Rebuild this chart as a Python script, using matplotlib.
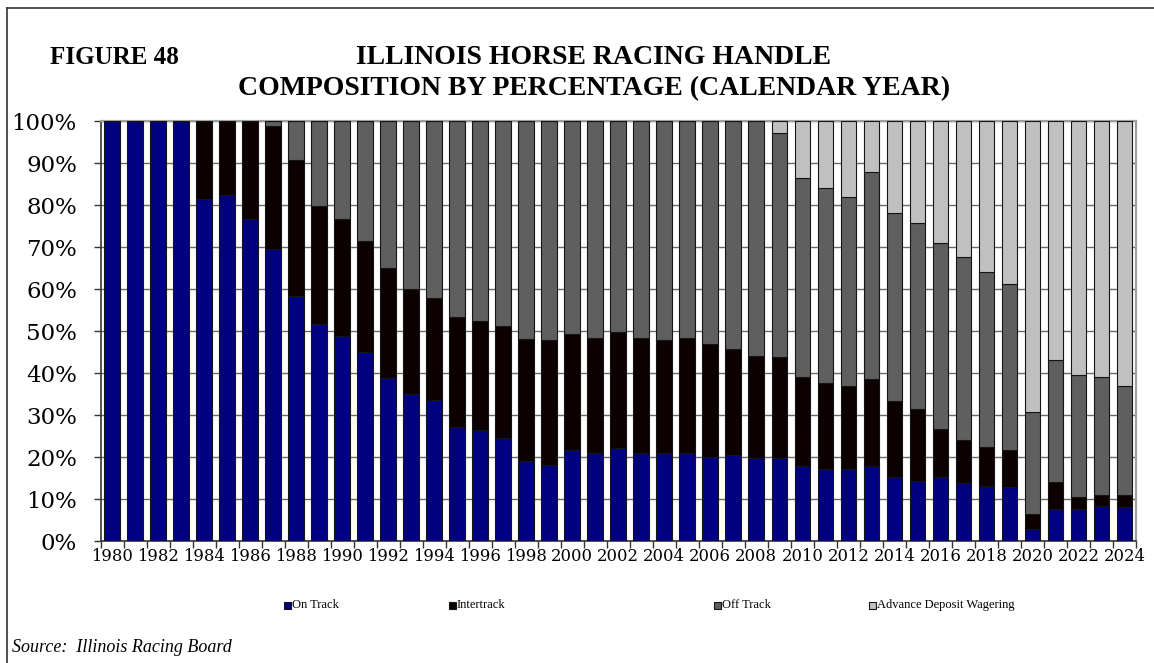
import numpy as np
import matplotlib.pyplot as plt
from matplotlib.lines import Line2D
from matplotlib.patches import Rectangle

# share of handle by wagering type, percent of calendar-year total
years = list(range(1980, 2025))
on_track = [100, 100, 100, 100, 81.4, 82.4, 76.7, 69.5, 58.4, 51.7,
            48.8, 45.1, 38.9, 35.1, 33.6, 27.2, 26.4, 24.6, 19.0, 18.0,
            21.7, 20.9, 22.2, 21.0, 21.0, 21.0, 20.1, 20.5, 19.7, 19.7,
            17.8, 17.2, 17.2, 17.9, 15.2, 14.3, 15.2, 13.9, 13.2, 12.9,
            2.9, 7.6, 7.6, 8.4, 8.1]
intertrack = [0, 0, 0, 0, 18.6, 17.6, 23.3, 29.4, 32.3, 28.1,
              27.8, 26.4, 26.0, 24.9, 24.3, 26.1, 26.0, 26.7, 29.1, 29.8,
              27.6, 27.5, 27.6, 27.4, 26.8, 27.4, 26.7, 25.3, 24.4, 24.0,
              21.2, 20.5, 19.6, 20.7, 18.1, 17.2, 11.5, 10.1, 9.1, 8.8,
              3.5, 6.5, 2.9, 2.6, 2.9]
off_track = [0, 0, 0, 0, 0, 0, 0, 1.1, 9.3, 20.2,
             23.4, 28.5, 35.1, 40.0, 42.1, 46.7, 47.6, 48.7, 51.9, 52.2,
             50.7, 51.6, 50.2, 51.6, 52.2, 51.6, 53.2, 54.2, 55.9, 53.5,
             47.5, 46.4, 45.0, 49.2, 44.8, 44.2, 44.2, 43.7, 41.7, 39.5,
             24.4, 28.9, 29.0, 28.1, 25.8]
adw = [0, 0, 0, 0, 0, 0, 0, 0, 0, 0,
       0, 0, 0, 0, 0, 0, 0, 0, 0, 0,
       0, 0, 0, 0, 0, 0, 0, 0, 0, 2.8,
       13.5, 15.9, 18.2, 12.2, 21.9, 24.3, 29.1, 32.3, 36.0, 38.8,
       69.2, 57.0, 60.5, 60.9, 63.2]

series_names = ["On Track", "Intertrack", "Off Track", "Advance Deposit Wagering"]
series_colors = ["#000080", "#0c0000", "#5f5f5f", "#c0c0c0"]

W, H = 1154, 663
fig = plt.figure(figsize=(W / 100, H / 100), dpi=100)


def fx(px):
    return px / W


def fy(py):
    return 1 - py / H


# outer frame (only top and left edges fall inside the image)
fig.add_artist(Line2D([fx(7), 1], [fy(8), fy(8)], color="#333333", lw=1.2))
fig.add_artist(Line2D([fx(7), fx(7)], [fy(8), 0], color="#333333", lw=1.2))

ax = fig.add_axes([fx(100.5), fy(541), fx(1136) - fx(100.5), fy(121) - fy(541)])

x = np.arange(len(years))
bottom = np.zeros(len(years))
for vals, name, col in zip([on_track, intertrack, off_track, adw], series_names, series_colors):
    vals = np.array(vals, dtype=float)
    ax.bar(x, vals, width=0.68, bottom=bottom, color=col, edgecolor="#151515",
           linewidth=0.8, zorder=3, label=name)
    bottom += vals

ax.set_xlim(-0.5, len(years) - 0.5)
ax.set_ylim(0, 100)

ax.set_yticks(np.arange(0, 101, 10))
ax.set_yticklabels([f"{v}%" for v in range(0, 101, 10)], family="DejaVu Serif", fontsize=16.5)
ax.yaxis.grid(True, color="#6a6a6a", linewidth=1.0, zorder=0)
ax.tick_params(axis="y", direction="out", length=5, width=1, color="#333333", pad=12)

ax.set_xticks(x[::2])
ax.set_xticklabels([str(y) for y in years[::2]], family="DejaVu Serif", fontsize=11.8)
ax.set_xticks(np.arange(-0.5, len(years), 1), minor=True)
ax.tick_params(axis="x", which="major", length=0, pad=5)
ax.tick_params(axis="x", which="minor", direction="out", length=5, width=1, color="#333333")

for side in ["left", "bottom"]:
    ax.spines[side].set_color("#333333")
    ax.spines[side].set_linewidth(1.2)
for side in ["top", "right"]:
    ax.spines[side].set_color("#a0a0a0")
    ax.spines[side].set_linewidth(1.6)

# titles
fig.text(fx(50), fy(57), "FIGURE 48", family="Liberation Serif", weight="bold",
         fontsize=18, ha="left", va="center")
fig.text(fx(594), fy(58), "ILLINOIS HORSE RACING HANDLE", family="Liberation Serif",
         weight="bold", fontsize=20, ha="center", va="center")
fig.text(fx(594), fy(89), "COMPOSITION BY PERCENTAGE (CALENDAR YEAR)",
         family="Liberation Serif", weight="bold", fontsize=20, ha="center", va="center")

# legend row
legend_x = [287, 452, 717, 872]
for lx, name, col in zip(legend_x, series_names, series_colors):
    fig.add_artist(Rectangle((fx(lx - 3), fy(608.5)), fx(7), 7 / H, facecolor=col,
                             edgecolor="#151515", linewidth=0.8))
    fig.text(fx(lx + 5), fy(605), name, family="Liberation Serif", fontsize=9,
             ha="left", va="center")

fig.text(fx(12), fy(647), "Source:  Illinois Racing Board", family="Liberation Serif",
         style="italic", fontsize=13, ha="left", va="center")

fig.savefig("out.png", dpi=100)
